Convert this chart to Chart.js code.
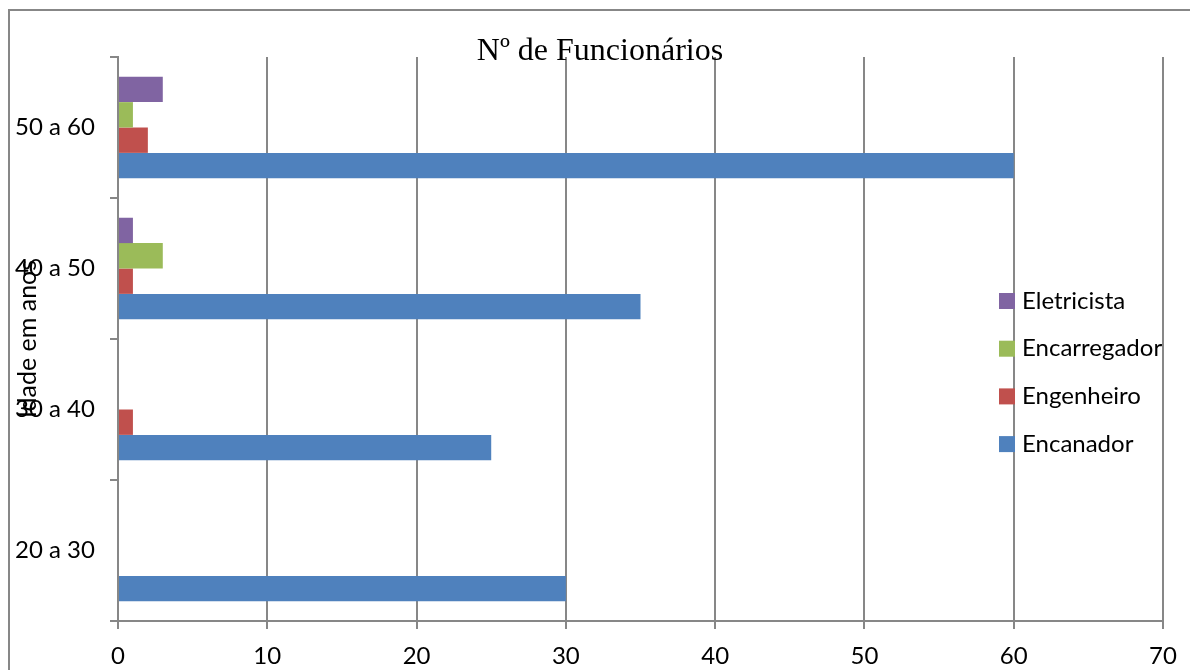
<!DOCTYPE html>
<html>
<head>
<meta charset="utf-8">
<script src="https://cdn.jsdelivr.net/npm/chart.js@4"></script>
<style>
  html, body { margin: 0; padding: 0; background: #ffffff; }
  #wrap { width: 1190px; height: 670px; position: relative; }
</style>
</head>
<body>
<div id="wrap"><canvas id="c" width="1190" height="670"></canvas></div>
<script>
// Age groups (bottom to top) and number of employees per role
const ageGroups    = ['20 a 30', '30 a 40', '40 a 50', '50 a 60'];
const eletricista  = [0, 0, 1, 3];
const encarregador = [0, 0, 3, 1];
const engenheiro   = [0, 1, 1, 2];
const encanador    = [30, 25, 35, 60];
const xTickValues  = [0, 10, 20, 30, 40, 50, 60, 70];
const chartTitle   = 'Nº de Funcionários';
const yAxisTitle   = 'Idade em anos';

const sansFont = 'Lato, "Open Sans", sans-serif';
const serifFont = '"Liberation Serif", "Times New Roman", serif';
const lineGray = '#878787';

// listed top-to-bottom as they appear within each group and in the legend
const series = [
  { label: 'Eletricista',  data: eletricista,  color: '#8064A2' },
  { label: 'Encarregador', data: encarregador, color: '#9BBB59' },
  { label: 'Engenheiro',   data: engenheiro,   color: '#C0504D' },
  { label: 'Encanador',    data: encanador,    color: '#4F81BD' }
];

// Frame, title, rotated axis title and the legend drawn on top of the plot
const decorations = {
  id: 'decorations',
  afterDraw(chart) {
    const ctx = chart.ctx;
    const area = chart.chartArea;
    ctx.save();

    // outer frame (left and top edges)
    ctx.strokeStyle = lineGray;
    ctx.lineWidth = 2;
    ctx.beginPath();
    ctx.moveTo(9, chart.height);
    ctx.lineTo(9, 10);
    ctx.lineTo(chart.width, 10);
    ctx.stroke();

    // chart title
    ctx.fillStyle = '#000';
    ctx.font = '32px ' + serifFont;
    ctx.textAlign = 'center';
    ctx.textBaseline = 'alphabetic';
    ctx.fillText(chartTitle, 600, 60);

    // y axis title
    ctx.save();
    ctx.translate(28, (area.top + area.bottom) / 2);
    ctx.rotate(-Math.PI / 2);
    ctx.font = '25px ' + sansFont;
    ctx.textAlign = 'center';
    ctx.textBaseline = 'middle';
    ctx.fillText(yAxisTitle, 0, 0);
    ctx.restore();

    // legend
    ctx.font = '24px ' + sansFont;
    ctx.textAlign = 'left';
    ctx.textBaseline = 'middle';
    chart.data.datasets.forEach((d, i) => {
      const cy = 301 + i * 47.7;
      ctx.fillStyle = d.backgroundColor;
      ctx.fillRect(999, cy - 8, 16, 16);
      ctx.fillStyle = '#000';
      ctx.fillText(d.label, 1022, cy);
    });

    ctx.restore();
  }
};

new Chart(document.getElementById('c'), {
  type: 'bar',
  data: {
    labels: ageGroups,
    datasets: series.map(s => ({
      label: s.label,
      data: s.data,
      backgroundColor: s.color,
      borderWidth: 0,
      categoryPercentage: 0.72,
      barPercentage: 1.0
    }))
  },
  options: {
    indexAxis: 'y',
    responsive: false,
    animation: false,
    devicePixelRatio: 1,
    layout: { padding: { left: 15, top: 57, right: 27, bottom: 0 } },
    plugins: {
      legend: { display: false },
      title: { display: false },
      tooltip: { enabled: false }
    },
    scales: {
      x: {
        min: 0,
        max: 70,
        afterBuildTicks(scale) {
          scale.ticks = xTickValues.map(v => ({ value: v }));
        },
        afterFit(scale) { scale.height = 49; },
        grid: {
          color: lineGray,
          lineWidth: 2,
          drawTicks: true,
          tickLength: 8
        },
        border: { display: true, color: lineGray, width: 2 },
        ticks: {
          color: '#000',
          font: { family: sansFont, size: 24 },
          padding: 13,
          maxRotation: 0
        }
      },
      y: {
        reverse: true,
        offset: true,
        afterFit(scale) { scale.width = 103; },
        grid: {
          offset: true,
          drawOnChartArea: false,
          drawTicks: true,
          tickLength: 8,
          color: lineGray,
          lineWidth: 2
        },
        border: { display: true, color: lineGray, width: 2 },
        ticks: {
          color: '#000',
          crossAlign: 'far',
          font: { family: sansFont, size: 24 }
        }
      }
    }
  },
  plugins: [decorations]
});
</script>
</body>
</html>
